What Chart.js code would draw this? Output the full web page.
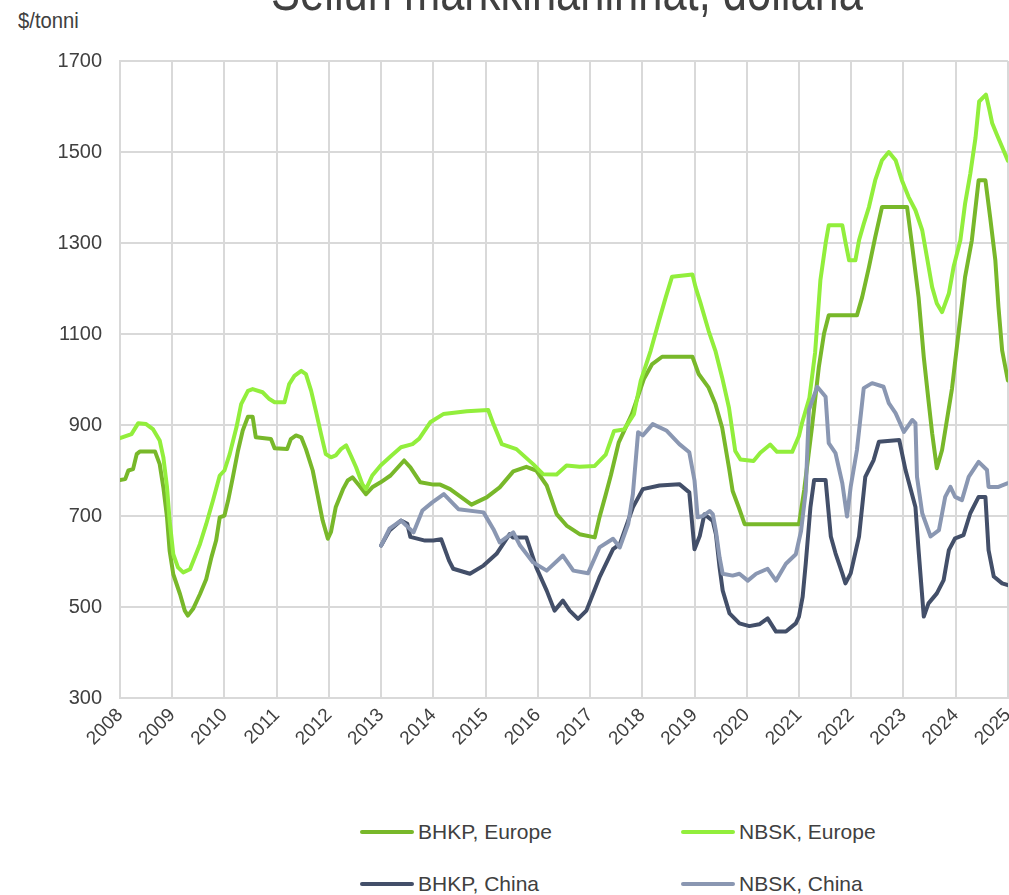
<!DOCTYPE html>
<html>
<head>
<meta charset="utf-8">
<script src="https://cdn.jsdelivr.net/npm/chart.js@4.4.1/dist/chart.umd.min.js"></script>
<style>
    html, body { margin: 0; padding: 0; background: #fff; }
    body { width: 1009px; height: 895px; overflow: hidden; position: relative; font-family: "Liberation Sans", Arial, sans-serif; color: #404040; }
    #otsikko { position: absolute; left: 567px; top: -33px; transform: translateX(-50%) scaleX(0.82); white-space: nowrap; font-size: 53px; line-height: 50px; color: #404040; }
    #yksikko { position: absolute; left: 18px; top: 8px; transform: scaleX(0.92); transform-origin: 0 0; font-size: 22px; color: #404040; }
    #kaavio { position: absolute; left: 0; top: 0; }
    .selite { position: absolute; display: flex; align-items: center; font-size: 21px; white-space: nowrap; }
    .selite i { display: inline-block; width: 54px; height: 4px; border-radius: 2px; margin-right: 4px; }
</style>
</head>
<body>
<div id="otsikko">Sellun markkinahinnat, dollaria</div>
<div id="yksikko">$/tonni</div>
<canvas id="kaavio" width="1030" height="770"></canvas>
<div id="selitteet"></div>
<script>
// BHKP, Europe
const bhkpEuropeYears = [2008.00, 2008.10, 2008.16, 2008.25, 2008.32, 2008.38, 2008.67, 2008.76, 2008.83, 2008.90, 2008.95, 2009.02, 2009.15, 2009.24, 2009.30, 2009.40, 2009.53, 2009.65, 2009.75, 2009.84, 2009.91, 2010.00, 2010.07, 2010.16, 2010.26, 2010.35, 2010.45, 2010.54, 2010.60, 2010.89, 2010.96, 2011.20, 2011.27, 2011.37, 2011.47, 2011.56, 2011.69, 2011.78, 2011.88, 2011.98, 2012.04, 2012.13, 2012.27, 2012.36, 2012.45, 2012.58, 2012.71, 2012.83, 2012.99, 2013.18, 2013.44, 2013.56, 2013.75, 2014.00, 2014.13, 2014.32, 2014.73, 2015.02, 2015.27, 2015.53, 2015.78, 2015.97, 2016.17, 2016.36, 2016.55, 2016.80, 2017.09, 2017.18, 2017.30, 2017.40, 2017.55, 2017.80, 2018.03, 2018.19, 2018.38, 2018.96, 2019.08, 2019.27, 2019.40, 2019.53, 2019.66, 2019.73, 2019.85, 2019.96, 2021.00, 2021.10, 2021.25, 2021.38, 2021.48, 2021.57, 2022.11, 2022.21, 2022.34, 2022.46, 2022.59, 2023.07, 2023.17, 2023.29, 2023.39, 2023.48, 2023.55, 2023.64, 2023.74, 2023.93, 2024.09, 2024.18, 2024.31, 2024.44, 2024.57, 2024.66, 2024.76, 2024.82, 2024.89, 2025.00];
const bhkpEuropeValues = [779, 781, 800, 803, 836, 842, 842, 814, 763, 697, 624, 572, 528, 492, 481, 496, 528, 561, 609, 646, 697, 701, 734, 785, 844, 888, 918, 918, 873, 869, 849, 847, 869, 877, 873, 847, 800, 748, 690, 650, 665, 719, 759, 778, 785, 767, 748, 763, 774, 789, 822, 807, 774, 769, 769, 759, 725, 741, 763, 798, 808, 800, 767, 704, 679, 660, 653, 697, 747, 790, 862, 924, 1001, 1034, 1050, 1050, 1012, 982, 946, 894, 806, 755, 718, 682, 682, 757, 896, 1027, 1101, 1141, 1141, 1181, 1247, 1313, 1379, 1379, 1291, 1181, 1049, 954, 882, 805, 845, 980, 1137, 1225, 1306, 1438, 1438, 1357, 1262, 1159, 1064, 998];

// NBSK, Europe
const nbskEuropeYears = [2008.00, 2008.22, 2008.35, 2008.50, 2008.63, 2008.76, 2008.83, 2008.90, 2008.95, 2009.02, 2009.11, 2009.21, 2009.34, 2009.43, 2009.53, 2009.65, 2009.78, 2009.91, 2010.00, 2010.10, 2010.23, 2010.32, 2010.45, 2010.54, 2010.73, 2010.86, 2010.96, 2011.15, 2011.24, 2011.34, 2011.47, 2011.56, 2011.66, 2011.75, 2011.85, 2011.94, 2012.04, 2012.13, 2012.23, 2012.33, 2012.42, 2012.52, 2012.64, 2012.71, 2012.83, 2012.99, 2013.20, 2013.38, 2013.60, 2013.73, 2013.94, 2014.19, 2014.64, 2015.05, 2015.15, 2015.31, 2015.59, 2015.91, 2016.10, 2016.36, 2016.55, 2016.80, 2017.09, 2017.30, 2017.46, 2017.65, 2017.84, 2017.97, 2018.16, 2018.32, 2018.45, 2018.57, 2018.96, 2019.02, 2019.11, 2019.27, 2019.40, 2019.53, 2019.66, 2019.78, 2019.88, 2020.13, 2020.26, 2020.45, 2020.58, 2020.87, 2021.00, 2021.06, 2021.20, 2021.31, 2021.41, 2021.51, 2021.57, 2021.83, 2021.89, 2021.96, 2022.08, 2022.15, 2022.24, 2022.34, 2022.46, 2022.59, 2022.72, 2022.85, 2022.97, 2023.10, 2023.23, 2023.36, 2023.45, 2023.55, 2023.64, 2023.74, 2023.87, 2023.96, 2024.09, 2024.18, 2024.28, 2024.38, 2024.45, 2024.58, 2024.64, 2024.70, 2024.79, 2024.89, 2025.00];
const nbskEuropeValues = [871, 880, 904, 902, 891, 866, 829, 763, 690, 616, 587, 576, 583, 609, 638, 682, 734, 789, 800, 836, 895, 946, 975, 979, 972, 957, 950, 950, 990, 1008, 1019, 1012, 975, 931, 880, 836, 829, 833, 847, 855, 833, 807, 770, 759, 789, 811, 833, 851, 858, 870, 906, 924, 930, 933, 902, 858, 847, 814, 792, 791, 811, 808, 810, 835, 887, 890, 924, 997, 1063, 1129, 1181, 1226, 1231, 1203, 1170, 1107, 1063, 1004, 938, 843, 824, 821, 839, 857, 841, 841, 876, 905, 960, 1060, 1218, 1299, 1339, 1339, 1302, 1262, 1262, 1306, 1342, 1379, 1438, 1482, 1500, 1482, 1438, 1401, 1372, 1328, 1269, 1203, 1167, 1148, 1189, 1247, 1306, 1386, 1452, 1531, 1611, 1626, 1596, 1563, 1538, 1511, 1481];

// BHKP, China
const bhkpChinaYears = [2013.00, 2013.16, 2013.38, 2013.50, 2013.56, 2013.84, 2014.00, 2014.15, 2014.30, 2014.38, 2014.70, 2014.96, 2015.21, 2015.46, 2015.52, 2015.78, 2015.97, 2016.17, 2016.32, 2016.48, 2016.61, 2016.77, 2016.93, 2017.18, 2017.44, 2017.57, 2017.82, 2018.01, 2018.33, 2018.71, 2018.90, 2019.00, 2019.10, 2019.19, 2019.35, 2019.41, 2019.48, 2019.54, 2019.67, 2019.86, 2020.05, 2020.24, 2020.40, 2020.56, 2020.75, 2020.94, 2021.00, 2021.07, 2021.13, 2021.22, 2021.29, 2021.51, 2021.61, 2021.70, 2021.83, 2021.89, 2021.99, 2022.15, 2022.27, 2022.43, 2022.53, 2022.92, 2023.04, 2023.23, 2023.29, 2023.39, 2023.48, 2023.64, 2023.77, 2023.87, 2023.99, 2024.15, 2024.28, 2024.44, 2024.57, 2024.63, 2024.73, 2024.89, 2025.00];
const bhkpChinaValues = [635, 668, 690, 683, 654, 646, 646, 649, 602, 584, 573, 591, 617, 660, 653, 653, 587, 536, 492, 514, 492, 474, 492, 565, 627, 638, 719, 759, 767, 770, 752, 627, 656, 704, 689, 660, 587, 536, 486, 464, 458, 462, 475, 446, 446, 464, 479, 522, 596, 720, 779, 779, 655, 618, 574, 552, 574, 655, 786, 823, 863, 867, 801, 720, 625, 479, 508, 530, 559, 625, 651, 658, 706, 742, 742, 625, 567, 552, 548];

// NBSK, China
const nbskChinaYears = [2013.00, 2013.16, 2013.38, 2013.62, 2013.79, 2013.98, 2014.20, 2014.48, 2014.96, 2015.15, 2015.27, 2015.53, 2015.66, 2015.91, 2016.17, 2016.48, 2016.68, 2016.96, 2017.18, 2017.44, 2017.57, 2017.73, 2017.82, 2017.92, 2018.01, 2018.20, 2018.46, 2018.71, 2018.90, 2019.00, 2019.06, 2019.16, 2019.29, 2019.35, 2019.41, 2019.48, 2019.54, 2019.73, 2019.86, 2020.02, 2020.18, 2020.40, 2020.56, 2020.75, 2020.94, 2021.04, 2021.13, 2021.19, 2021.35, 2021.51, 2021.57, 2021.70, 2021.83, 2021.92, 2021.99, 2022.11, 2022.24, 2022.40, 2022.62, 2022.72, 2022.85, 2023.01, 2023.17, 2023.23, 2023.26, 2023.36, 2023.52, 2023.68, 2023.80, 2023.90, 2023.99, 2024.12, 2024.25, 2024.44, 2024.60, 2024.63, 2024.82, 2025.00];
const nbskChinaValues = [635, 672, 690, 664, 712, 730, 748, 715, 708, 671, 642, 664, 635, 598, 580, 613, 580, 574, 631, 650, 631, 682, 748, 884, 877, 902, 888, 858, 840, 778, 697, 700, 711, 704, 667, 609, 573, 569, 573, 558, 573, 584, 558, 595, 616, 667, 755, 933, 984, 962, 860, 838, 772, 699, 764, 845, 981, 992, 984, 948, 926, 885, 911, 904, 786, 706, 655, 669, 742, 764, 742, 735, 786, 819, 801, 764, 764, 772];

const yearTicks = [2008, 2009, 2010, 2011, 2012, 2013, 2014, 2015, 2016, 2017, 2018, 2019, 2020, 2021, 2022, 2023, 2024, 2025];
const priceTicks = [300, 500, 700, 900, 1100, 1300, 1500, 1700];

const sarjat = [
    { label: "BHKP, Europe", years: bhkpEuropeYears, values: bhkpEuropeValues, color: "#78B82A" },
    { label: "NBSK, Europe", years: nbskEuropeYears, values: nbskEuropeValues, color: "#92EE3C" },
    { label: "BHKP, China", years: bhkpChinaYears, values: bhkpChinaValues, color: "#434F69" },
    { label: "NBSK, China", years: nbskChinaYears, values: nbskChinaValues, color: "#8A97B2" }
];

// selitteet: 2 saraketta, 2 riviä
const paikat = [[360, 832], [681, 832], [360, 884], [681, 884]];
const selitteet = document.getElementById("selitteet");
sarjat.forEach((s, i) => {
    const el = document.createElement("div");
    el.className = "selite";
    el.style.left = paikat[i][0] + "px";
    el.style.top = (paikat[i][1] - 12) + "px";
    el.innerHTML = `<i style="background:${s.color}"></i>${s.label}`;
    selitteet.appendChild(el);
});

const gridColor = "#d9d9d9";

// piirretään viimeisin sarja päällimmäiseksi (Chart.js piirtää ensimmäisen päällimmäiseksi)
const datasets = sarjat.slice().reverse().map(s => ({
    label: s.label,
    data: s.years.map((x, i) => ({ x, y: s.values[i] })),
    borderColor: s.color,
    backgroundColor: s.color,
    borderWidth: 4,
    pointRadius: 0,
    tension: 0,
    borderCapStyle: "round",
    borderJoinStyle: "round"
}));

new Chart(document.getElementById("kaavio"), {
    type: "line",
    data: { datasets },
    options: {
        responsive: false,
        animation: false,
        layout: { padding: { top: 61, left: 0, right: 0, bottom: 0 } },
        plugins: { legend: { display: false }, tooltip: { enabled: false }, title: { display: false } },
        scales: {
            x: {
                type: "linear",
                min: yearTicks[0],
                max: yearTicks[yearTicks.length - 1],
                afterBuildTicks: axis => { axis.ticks = yearTicks.map(v => ({ value: v })); },
                afterFit: axis => { axis.height = 72; },
                ticks: {
                    minRotation: 45, maxRotation: 45, autoSkip: false,
                    padding: 6, color: "#404040",
                    font: { family: "'Liberation Sans', Arial, sans-serif", size: 19 },
                    callback: v => String(v)
                },
                grid: { color: gridColor, lineWidth: 2, drawTicks: false },
                border: { color: gridColor, width: 2 }
            },
            y: {
                min: priceTicks[0],
                max: priceTicks[priceTicks.length - 1],
                afterBuildTicks: axis => { axis.ticks = priceTicks.map(v => ({ value: v })); },
                afterFit: axis => { axis.width = 120; },
                ticks: {
                    padding: 18, color: "#404040",
                    font: { family: "'Liberation Sans', Arial, sans-serif", size: 20 },
                    callback: v => String(v)
                },
                grid: { color: gridColor, lineWidth: 2, drawTicks: false },
                border: { color: gridColor, width: 2 }
            }
        }
    }
});
</script>
</body>
</html>
